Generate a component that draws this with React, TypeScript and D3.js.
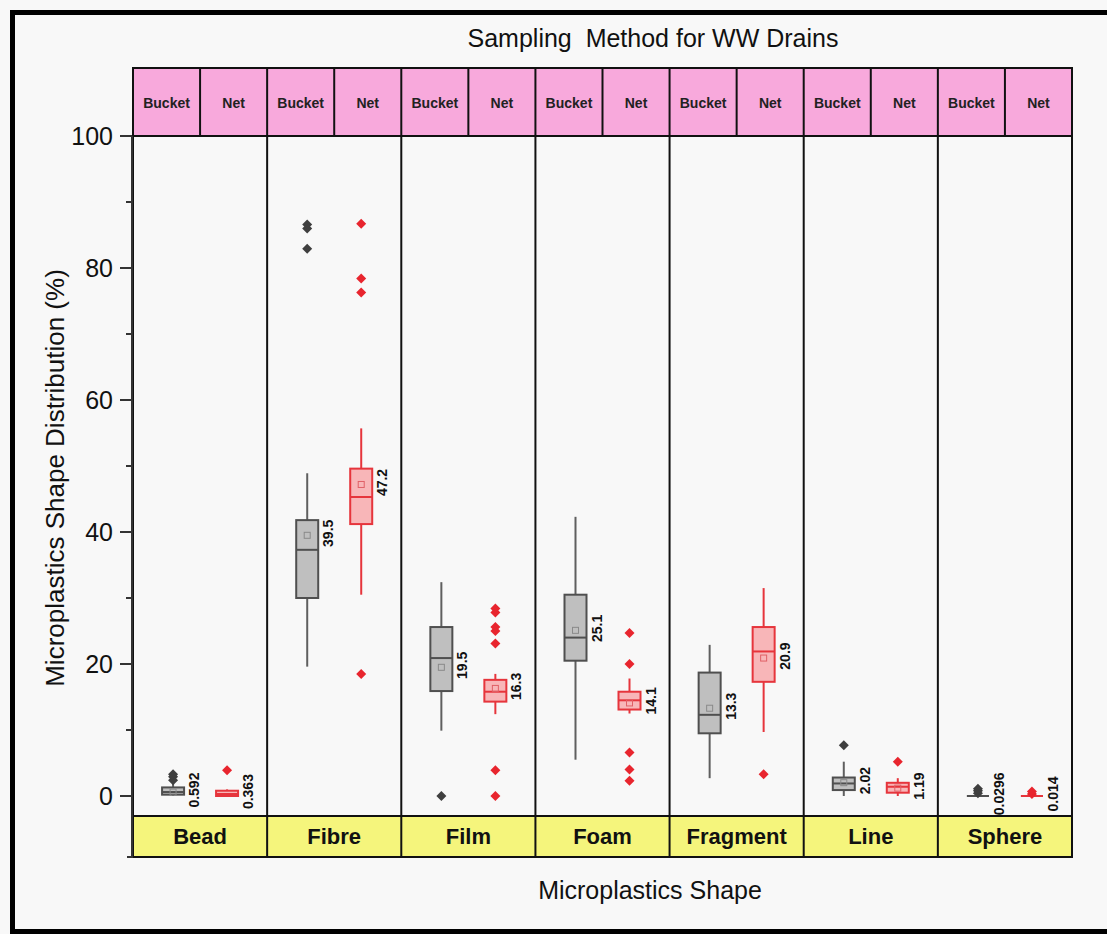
import React from "react";
import * as d3 from "d3";

// Microplastic shape categories and sampling methods
const shapes = ["Bead", "Fibre", "Film", "Foam", "Fragment", "Line", "Sphere"];
const methods = ["Bucket", "Net"];

// Bucket sampling: box statistics per shape (%)
const bucketLow = [0, 19.6, 9.9, 5.5, 2.7, 0, 0];
const bucketQ1 = [0.2, 30.0, 15.9, 20.5, 9.5, 0.9, 0];
const bucketMedian = [0.6, 37.3, 20.9, 24.0, 12.3, 1.9, 0];
const bucketQ3 = [1.3, 41.8, 25.6, 30.5, 18.7, 2.8, 0];
const bucketHigh = [1.9, 48.9, 32.4, 42.3, 22.9, 5.2, 0];
const bucketMean = [0.592, 39.5, 19.5, 25.1, 13.3, 2.02, 0.0296];
const bucketOutliers = [[2.4, 2.9, 3.3], [82.9, 86.0, 86.6], [0.0], [], [], [7.7], [0.4, 0.8, 1.1]];

// Net sampling: box statistics per shape (%)
const netLow = [0, 30.5, 12.4, 12.5, 9.7, 0, 0];
const netQ1 = [0, 41.2, 14.3, 13.1, 17.3, 0.5, 0];
const netMedian = [0.3, 45.3, 15.8, 14.5, 21.9, 1.4, 0];
const netQ3 = [0.8, 49.6, 17.6, 15.8, 25.6, 2.0, 0];
const netHigh = [1.0, 55.7, 18.5, 17.8, 31.5, 2.7, 0];
const netMean = [0.363, 47.2, 16.3, 14.1, 20.9, 1.19, 0.014];
const netOutliers = [[3.9], [18.5, 76.3, 78.4, 86.7], [0.0, 3.9, 23.1, 25.0, 25.6, 27.8, 28.4], [2.3, 4.0, 6.6, 20.0, 24.7], [3.3], [5.2], [0.3, 0.7]];

const yMajorTicks = [0, 20, 40, 60, 80, 100];
const yMinorTicks = [10, 30, 50, 70, 90];

const W = 1107;
const H = 934;
const left = 133;
const right = 1072;
const headerTop = 68;
const plotTop = 136;
const plotBottom = 816;
const stripBottom = 857;

const font = "'Liberation Sans', Arial, Helvetica, sans-serif";

const styles = {
  Bucket: { fill: "#bfbfbf", stroke: "#4f4f4f", whisker: "#5f5f5f", dot: "#3f3f3f", mean: "#8a8a8a" },
  Net: { fill: "#f8b6b8", stroke: "#e6353c", whisker: "#e6353c", dot: "#e8252e", mean: "#e06066" },
};

type Series = {
  low: number[]; q1: number[]; med: number[]; q3: number[]; high: number[]; mean: number[]; out: number[][];
};

const series: Record<string, Series> = {
  Bucket: { low: bucketLow, q1: bucketQ1, med: bucketMedian, q3: bucketQ3, high: bucketHigh, mean: bucketMean, out: bucketOutliers },
  Net: { low: netLow, q1: netQ1, med: netMedian, q3: netQ3, high: netHigh, mean: netMean, out: netOutliers },
};

export default function App() {
  const y = d3.scaleLinear().domain([0, 100]).range([796, plotTop]);
  const x = d3.scaleBand<string>().domain(shapes).range([left, right]).paddingInner(0).paddingOuter(0);
  const sub = d3.scalePoint<string>().domain(methods).range([-27, 27]);
  const boxW = 22;
  const diamond = d3.symbol().type(d3.symbolSquare).size(50)() as string;

  const bw = x.bandwidth();

  return (
    <svg
      width={W}
      height={H}
      style={{ position: "absolute", left: 0, top: 0, background: "#f8f8f8" }}
      fontFamily={font}
    >
      {/* outer frame */}
      <rect x={12.5} y={12.5} width={1200} height={919} fill="none" stroke="#000" strokeWidth={5} />

      {/* title */}
      <text x={653} y={47} textAnchor="middle" fontSize={25} fill="#111" style={{ whiteSpace: "pre" }}>
        {"Sampling  Method for WW Drains"}
      </text>

      {/* header strip with methods */}
      <rect x={left} y={headerTop} width={right - left} height={plotTop - headerTop} fill="#f8a9dc" />
      {shapes.map((s) => (
        <g key={"h" + s}>
          {methods.map((m, j) => (
            <text
              key={m}
              x={(x(s) as number) + bw * (j === 0 ? 0.25 : 0.75)}
              y={103}
              dy="0.35em"
              textAnchor="middle"
              fontSize={14}
              fontWeight="bold"
              fill="#222"
            >
              {m}
            </text>
          ))}
          <line x1={(x(s) as number) + bw / 2} x2={(x(s) as number) + bw / 2} y1={headerTop} y2={plotTop} stroke="#111" strokeWidth={2} />
        </g>
      ))}
      <rect x={left} y={headerTop} width={right - left} height={plotTop - headerTop} fill="none" stroke="#111" strokeWidth={2} />

      {/* bottom category strip */}
      <rect x={left} y={plotBottom} width={right - left} height={stripBottom - plotBottom} fill="#f5f57c" stroke="#111" strokeWidth={2} />
      {shapes.map((s) => (
        <text
          key={"c" + s}
          x={(x(s) as number) + bw / 2}
          y={(plotBottom + stripBottom) / 2}
          dy="0.36em"
          textAnchor="middle"
          fontSize={22}
          fontWeight="bold"
          fill="#111"
        >
          {s}
        </text>
      ))}

      {/* panel separators */}
      {shapes.map((s) => (
        <line key={"p" + s} x1={x(s) as number} x2={x(s) as number} y1={headerTop} y2={stripBottom} stroke="#111" strokeWidth={2} />
      ))}
      <line x1={right} x2={right} y1={headerTop} y2={stripBottom} stroke="#111" strokeWidth={2} />

      {/* y axis */}
      <line x1={132} x2={132} y1={plotTop} y2={stripBottom + 1} stroke="#333" strokeWidth={2} />
      <line x1={127} x2={132} y1={stripBottom} y2={stripBottom} stroke="#333" strokeWidth={2} />
      {yMajorTicks.map((t) => (
        <g key={"t" + t}>
          <line x1={120} x2={132} y1={y(t)} y2={y(t)} stroke="#333" strokeWidth={2} />
          <text x={113} y={y(t)} dy="0.36em" textAnchor="end" fontSize={25} fill="#111">
            {t}
          </text>
        </g>
      ))}
      {yMinorTicks.map((t) => (
        <line key={"m" + t} x1={126} x2={132} y1={y(t)} y2={y(t)} stroke="#333" strokeWidth={2} />
      ))}
      <text
        transform={`translate(55,478) rotate(-90)`}
        textAnchor="middle"
        dy="0.35em"
        fontSize={26}
        fill="#111"
      >
        Microplastics Shape Distribution (%)
      </text>

      {/* x axis title */}
      <text x={650} y={899} textAnchor="middle" fontSize={25} fill="#111">
        Microplastics Shape
      </text>

      {/* boxes */}
      {methods.map((m) => {
        const d = series[m];
        const st = styles[m as "Bucket" | "Net"];
        return shapes.map((s, i) => {
          const cx = (x(s) as number) + bw / 2 + (sub(m) as number);
          const top = y(d.q3[i]);
          const bot = y(d.q1[i]);
          return (
            <g key={m + s}>
              <line x1={cx} x2={cx} y1={y(d.high[i])} y2={top} stroke={st.whisker} strokeWidth={2} />
              <line x1={cx} x2={cx} y1={bot} y2={y(d.low[i])} stroke={st.whisker} strokeWidth={2} />
              {bot - top > 0.5 ? (
                <rect x={cx - boxW / 2} y={top} width={boxW} height={bot - top} fill={st.fill} stroke={st.stroke} strokeWidth={2} />
              ) : (
                <line x1={cx - boxW / 2} x2={cx + boxW / 2} y1={top} y2={top} stroke={st.stroke} strokeWidth={2} />
              )}
              <line x1={cx - boxW / 2} x2={cx + boxW / 2} y1={y(d.med[i])} y2={y(d.med[i])} stroke={st.stroke} strokeWidth={2} />
              {bot - top > 6 && (
                <rect x={cx - 3} y={y(d.mean[i]) - 3} width={6} height={6} fill="none" stroke={st.mean} strokeWidth={1} />
              )}
              {d.out[i].map((o, k) => (
                <path key={k} d={diamond} transform={`translate(${cx},${y(o)}) rotate(45)`} fill={st.dot} />
              ))}
              <text
                transform={`translate(${cx + boxW / 2 + 15},${y(d.mean[i]) - 2}) rotate(-90)`}
                textAnchor="middle"
                fontSize={14}
                fontWeight="bold"
                fill="#111"
              >
                {String(d.mean[i])}
              </text>
            </g>
          );
        });
      })}
    </svg>
  );
}
